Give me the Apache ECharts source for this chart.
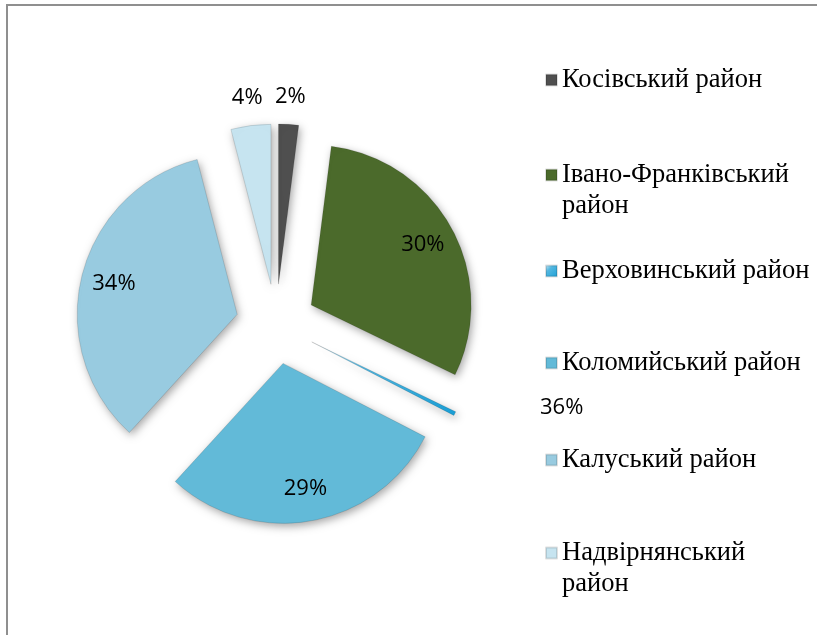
<!DOCTYPE html>
<html>
<head>
<meta charset="utf-8">
<script src="https://cdn.jsdelivr.net/npm/echarts@6/dist/echarts.min.js"></script>
<style>
  html, body { margin: 0; padding: 0; background: #fff; }
  #chart { width: 817px; height: 635px; }
</style>
</head>
<body>
<div id="chart"></div>
<script>
// Дані діаграми
const raiony = ['Косівський район', 'Івано-Франківський район', 'Верховинський район',
                'Коломийський район', 'Калуський район', 'Надвірнянський район'];
const chastky = [2, 30, 0.4, 29, 34, 4];
const pidpysy = ['2%', '30%', '', '29%', '34%', '4%'];
const legendaTexty = ['Косівський район', 'Івано-Франківський\nрайон', 'Верховинський район',
                      'Коломийський район', 'Калуський район', 'Надвірнянський\nрайон'];
const okremyiPidpys = '36%';

// Оформлення
const kolory = ['#4f4f4f', '#4b6a2b', '#1a9fd6', '#62bad8', '#98cbe0', '#c6e4f0'];
const legendaY = [80, 175, 271, 363, 460, 553];   // центр значка кожного рядка
const L = 31;                                      // висота рядка легенди
const centr = [276, 324];

const kolirSektora = (i) => {
    if (i === 2) {
        // тонкий сектор світлішає до центру
        return {
            type: 'linear', x: 0, y: 0, x2: 1, y2: 1,
            colorStops: [
                { offset: 0, color: 'rgba(26,159,214,0.15)' },
                { offset: 0.35, color: 'rgba(26,159,214,0.75)' },
                { offset: 1, color: '#1a9fd6' }
            ]
        };
    }
    return kolory[i];
};

const chart = echarts.init(document.getElementById('chart'));

const bazaSerii = {
    type: 'pie',
    center: centr,
    startAngle: 90,
    clockwise: true,
    selectedMode: 'multiple',
    selectedOffset: 40,
    silent: true,
    avoidLabelOverlap: false,
    labelLine: { show: false },
    emphasis: { disabled: true }
};

const option = {
    animation: false,
    backgroundColor: '#fff',
    legend: raiony.map((n, i) => {
        const dvaRyadky = legendaTexty[i].includes('\n');
        return {
            data: [n],
            orient: 'vertical',
            left: 545,
            top: legendaY[i] - (dvaRyadky ? 1.5 * L : 0.5 * L),
            padding: 0,
            icon: 'rect',
            itemWidth: 11,
            itemHeight: 11,
            selectedMode: false,
            // порожній перший рядок, щоб значок стояв навпроти першого рядка
            formatter: () => (dvaRyadky ? '\n' : '') + legendaTexty[i],
            textStyle: {
                fontFamily: 'Liberation Serif',
                fontSize: 26.5,
                color: '#000',
                lineHeight: L
            }
        };
    }),
    graphic: [
        {
            type: 'rect',
            shape: { x: 7, y: 5, width: 900, height: 700 },
            style: { fill: 'none', stroke: '#8f8f8f', lineWidth: 2 },
            silent: true
        },
        {
            type: 'text',
            left: 540,
            top: 397,
            style: { text: okremyiPidpys, font: '22px "Open Sans"', fill: '#000' }
        }
    ],
    series: [
        Object.assign({}, bazaSerii, {
            name: 'Райони',
            radius: [0, 160],
            label: { show: false },
            itemStyle: {
                shadowBlur: 8,
                shadowColor: 'rgba(0,0,0,0.35)',
                shadowOffsetX: 2,
                shadowOffsetY: 3
            },
            data: raiony.map((n, i) => ({
                name: n,
                value: chastky[i],
                selected: true,
                itemStyle: { color: kolirSektora(i), borderColor: 'rgba(0,0,0,0.12)', borderWidth: 1 }
            }))
        }),
        // підписи великих секторів
        Object.assign({}, bazaSerii, {
            name: 'Підписи',
            radius: [108, 140],
            itemStyle: { color: 'rgba(0,0,0,0)' },
            label: {
                position: 'inside',
                rotate: 0,
                color: '#000',
                fontFamily: 'Open Sans',
                fontSize: 22,
                formatter: (p) => pidpysy[p.dataIndex]
            },
            data: raiony.map((n, i) => ({
                name: n, value: chastky[i], selected: true,
                label: { show: chastky[i] >= 10 }
            }))
        }),
        // підписи малих секторів
        Object.assign({}, bazaSerii, {
            name: 'Підписи малі',
            radius: [180, 190],
            itemStyle: { color: 'rgba(0,0,0,0)' },
            label: {
                position: 'inside',
                rotate: 0,
                color: '#000',
                fontFamily: 'Open Sans',
                fontSize: 22,
                formatter: (p) => pidpysy[p.dataIndex]
            },
            data: raiony.map((n, i) => ({
                name: n, value: chastky[i], selected: true,
                label: { show: chastky[i] < 10 && chastky[i] >= 1 }
            }))
        })
    ]
};

chart.setOption(option);
</script>
</body>
</html>
